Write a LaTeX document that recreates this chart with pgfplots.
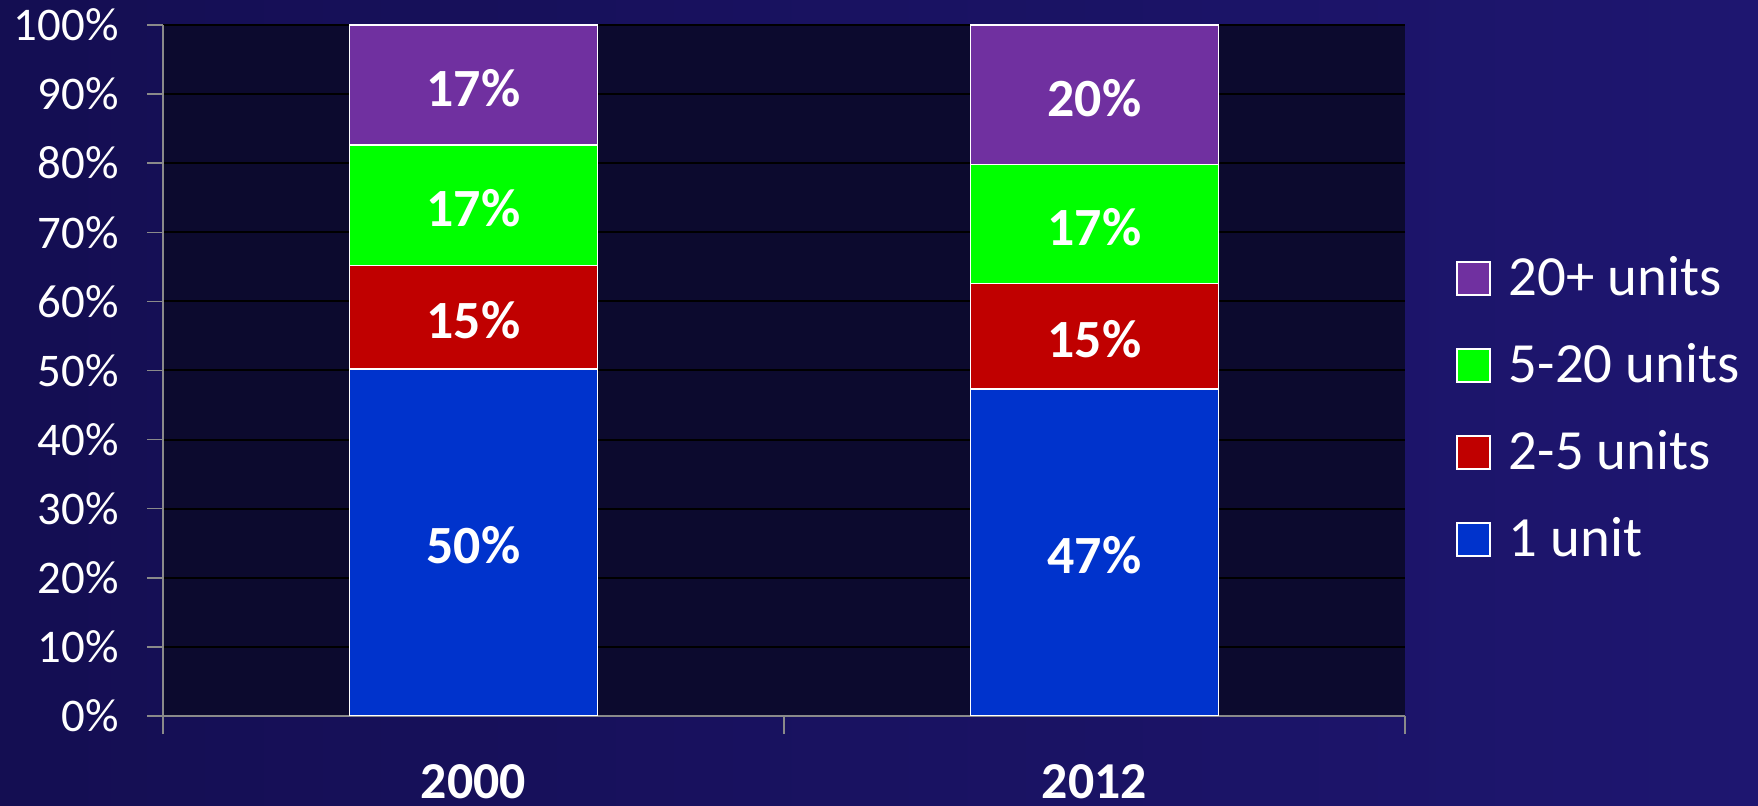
\documentclass[border=0pt]{standalone}
\usepackage{pgfplots}
\usepackage{pgfplotstable}
\pgfplotsset{compat=1.18}
\usepackage{fontspec}
\setmainfont{Carlito}
\definecolor{bgA}{HTML}{140E52}
\definecolor{bgB}{HTML}{1E1670}
\definecolor{plotbg}{HTML}{0C0A2E}
\definecolor{cBlue}{HTML}{0033CC}
\definecolor{cRed}{HTML}{C00000}
\definecolor{cGreen}{HTML}{00FF00}
\definecolor{cPurple}{HTML}{7030A0}
\definecolor{axgray}{HTML}{8A8A8A}
\pgfplotstableread{
x blue red green purple
0.5 50.2 15.0 17.4 17.4
1.5 47.3 15.3 17.2 20.2
}\datatable
\pgfplotsset{
  lbl/.style={
    nodes near coords={\pgfmathprintnumber[fixed,precision=0,assume math mode=true]{\pgfplotspointmeta}\%},
    every node near coord/.append style={anchor=center, text=white,
      font=\bfseries\fontsize{27}{27}\selectfont,
      yshift=-1.5bp},
  },
}
\begin{document}
\begin{tikzpicture}
\shade[use as bounding box, left color=bgA, right color=bgB] (0,0) rectangle (879bp,403bp);
\begin{axis}[
  at={(81.5bp,45bp)}, anchor=south west,
  scale only axis, width=621bp, height=345.5bp,
  ybar stacked, bar width=124bp,
  xmin=0, xmax=2, ymin=0, ymax=100,
  xtick={0.5,1.5}, xticklabels={2000,2012},
  minor xtick={0,1,2},
  ytick={0,10,...,100},
  yticklabels={0\%,10\%,20\%,30\%,40\%,50\%,60\%,70\%,80\%,90\%,100\%},
  axis x line*=bottom, axis y line*=left,
  axis line style={axgray, line width=0.75bp, -},
  axis background/.style={fill=plotbg},
  ymajorgrids, major grid style={black, line width=1bp},
  major tick length=8bp, minor tick length=9bp,
  tick align=outside,
  major x tick style={draw=none},
  minor x tick style={axgray, line width=0.75bp},
  major y tick style={axgray, line width=0.75bp},
  xticklabel style={font=\bfseries\fontsize{26}{26}\selectfont, text=white, anchor=base, inner sep=0pt, text depth=0pt, yshift=-33bp},
  yticklabel style={font=\fontsize{23.5}{23.5}\selectfont, text=white, anchor=east, inner sep=0pt, xshift=-14bp},
  legend style={at={(1.041,0.4405)}, anchor=west, draw=none, fill=none,
    font=\fontsize{28.5}{28.5}\selectfont, text=white, inner sep=0pt,
    nodes={inner sep=0pt, text height=20bp, text depth=6bp},
    row sep=17.5bp,
    /tikz/every odd column/.append style={column sep=9bp}},
  legend cell align=left,
  reverse legend,
  legend image code/.code={\draw[#1, draw=white, line width=0.8bp] (0bp,-7bp) rectangle (16.5bp,9.5bp);},
]
\addplot[fill=cBlue, draw=white, line width=0.8bp, lbl] table[x=x,y=blue]{\datatable};
\addlegendentry{1 unit}
\addplot[fill=cRed, draw=white, line width=0.8bp, lbl] table[x=x,y=red]{\datatable};
\addlegendentry{2-5 units}
\addplot[fill=cGreen, draw=white, line width=0.8bp, lbl] table[x=x,y=green]{\datatable};
\addlegendentry{5-20 units}
\addplot[fill=cPurple, draw=white, line width=0.8bp, lbl] table[x=x,y=purple]{\datatable};
\addlegendentry{20+ units}
\end{axis}
\end{tikzpicture}
\end{document}
